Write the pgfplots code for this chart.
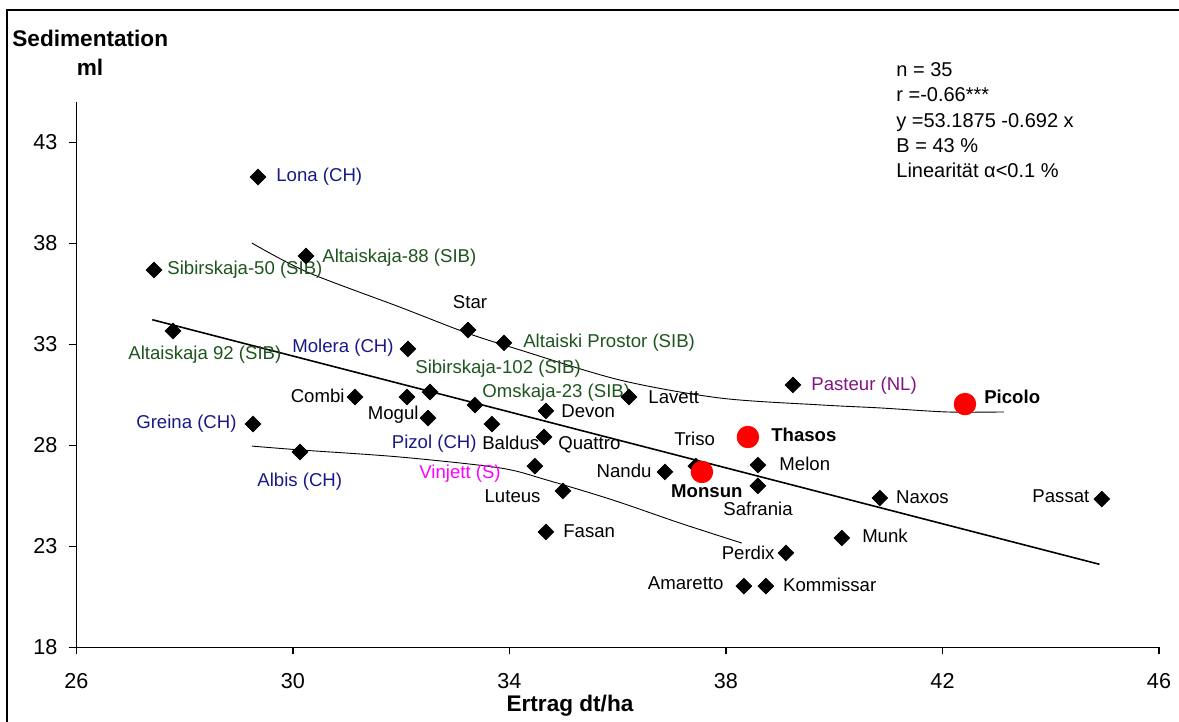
\documentclass[border=0pt]{standalone}
\usepackage{fontspec}
\setmainfont{Liberation Sans}
\usepackage{pgfplots}
\pgfplotsset{compat=1.18}
\definecolor{cnavy}{RGB}{25,25,135}
\definecolor{cgreen}{RGB}{30,85,30}
\definecolor{cpurple}{RGB}{130,20,130}
\definecolor{cmag}{RGB}{255,0,255}
\begin{document}
\begin{tikzpicture}[
  lab/.style={font=\fontsize{9.3}{11}\selectfont, inner sep=0pt, text height=6.66pt, text depth=0pt},
  blab/.style={lab, font=\fontsize{9.3}{11}\selectfont\bfseries}]
\useasboundingbox (0,0) rectangle (589.5pt,361pt);
\draw[line width=1pt] (3.5pt,-5pt) -- (3.5pt,356pt) -- (600pt,356pt);
\begin{axis}[
  at={(38.25pt,37.25pt)}, anchor=south west,
  scale only axis, width=541.25pt, height=272.7pt,
  xmin=26, xmax=46, ymin=18, ymax=45,
  xtick={26,30,34,38,42,46}, ytick={18,23,28,33,38,43},
  axis x line=bottom, axis y line=left,
  axis line style={-, line width=0.75pt},
  tick style={line width=0.6pt, black},
  tick align=outside, major tick length=3.5pt,
  /pgf/number format/assume math mode=true,
  xticklabel style={font=\fontsize{10.8}{13}\selectfont, yshift=-6pt},
  yticklabel style={font=\fontsize{10.8}{13}\selectfont, xshift=-2.5pt},
  clip=false,
]
% regression line
\addplot[black, line width=0.8pt] coordinates {(27.4,34.2267) (44.9,22.118)};
% upper curve
\addplot[black, line width=0.45pt, smooth] coordinates {
(29.242,38.02) (30.258,36.59) (31.976,34.85) (33.213,33.57) (34.193,32.73)
(36.04,31.24) (37.888,30.35) (39.735,30.01) (40.843,29.86) (42.081,29.66) (43.134,29.66)};
% lower curve
\addplot[black, line width=0.45pt, smooth] coordinates {
(29.242,27.97) (30.129,27.78) (31.976,27.43) (33.823,26.89) (34.691,26.29)
(35.91,25.30) (37.148,24.16) (38.293,23.17)};
% diamonds
\addplot[only marks, mark=square*, mark size=2.75pt, mark options={rotate=45, fill=black, draw=black}] coordinates {
(29.353,41.29) (30.240,37.38) (27.432,36.69) (27.783,33.67) (33.233,33.72)
(33.898,33.08) (32.124,32.78) (32.531,30.65) (31.145,30.40) (32.105,30.40)
(32.493,29.36) (33.362,30.00) (33.676,29.06) (34.673,29.71) (34.636,28.42)
(36.207,30.40) (39.237,31.00) (37.444,26.98) (36.872,26.69) (38.590,27.03)
(38.590,26.00) (34.470,26.98) (34.987,25.75) (34.673,23.72) (39.107,22.68)
(38.331,21.04) (38.737,21.04) (40.141,23.42) (40.843,25.40) (44.944,25.35)
(29.261,29.06) (30.129,27.68)};
% red circles
\addplot[only marks, mark=*, mark size=5.4pt, mark options={fill=red, draw=red}] coordinates {
(42.415,30.05) (38.405,28.42) (37.555,26.69)};
% labels
\node[lab, anchor=west, text=cnavy] at (axis cs:29.686,41.39) {Lona (CH)};
\node[lab, anchor=west, text=cgreen] at (axis cs:30.535,37.38) {Altaiskaja-88 (SIB)};
\node[lab, anchor=west, text=cgreen] at (axis cs:27.672,36.79) {Sibirskaja-50 (SIB)};
\node[lab, anchor=west, text=cgreen] at (axis cs:26.951,32.58) {Altaiskaja 92 (SIB)};
\node[lab, anchor=center] at (axis cs:33.27,35.10) {Star};
\node[lab, anchor=west, text=cgreen] at (axis cs:34.248,33.17) {Altaiski Prostor (SIB)};
\node[lab, anchor=east, text=cnavy] at (axis cs:31.866,32.93) {Molera (CH)};
\node[lab, anchor=west, text=cgreen] at (axis cs:32.253,31.89) {Sibirskaja-102 (SIB)};
\node[lab, anchor=east] at (axis cs:30.96,30.45) {Combi};
\node[lab, anchor=east] at (axis cs:32.327,29.61) {Mogul};
\node[lab, anchor=west, text=cgreen] at (axis cs:33.49,30.70) {Omskaja-23 (SIB)};
\node[lab, anchor=west] at (axis cs:34.95,29.71) {Devon};
\node[lab, anchor=west] at (axis cs:36.56,30.40) {Lavett};
\node[lab, anchor=west, text=cpurple] at (axis cs:39.57,31.05) {Pasteur (NL)};
\node[blab, anchor=west] at (axis cs:42.765,30.40) {Picolo};
\node[lab, anchor=east, text=cnavy] at (axis cs:28.965,29.17) {Greina (CH)};
\node[lab, anchor=east, text=cnavy] at (axis cs:33.40,28.17) {Pizol (CH)};
\node[lab, anchor=west] at (axis cs:33.49,28.12) {Baldus};
\node[lab, anchor=west] at (axis cs:34.895,28.12) {Quattro};
\node[lab, anchor=center] at (axis cs:37.42,28.32) {Triso};
\node[blab, anchor=west] at (axis cs:38.83,28.52) {Thasos};
\node[lab, anchor=west, text=cnavy] at (axis cs:29.335,26.29) {Albis (CH)};
\node[lab, anchor=west, text=cmag] at (axis cs:32.327,26.69) {Vinjett (S)};
\node[lab, anchor=east] at (axis cs:36.63,26.74) {Nandu};
\node[lab, anchor=west] at (axis cs:38.98,27.08) {Melon};
\node[blab, anchor=west] at (axis cs:36.98,25.75) {Monsun};
\node[lab, anchor=east] at (axis cs:34.58,25.50) {Luteus};
\node[lab, anchor=west] at (axis cs:37.944,24.86) {Safrania};
\node[lab, anchor=west] at (axis cs:34.987,23.77) {Fasan};
\node[lab, anchor=east] at (axis cs:38.903,22.68) {Perdix};
\node[lab, anchor=east] at (axis cs:37.96,21.19) {Amaretto};
\node[lab, anchor=west] at (axis cs:39.05,21.09) {Kommissar};
\node[lab, anchor=west] at (axis cs:40.51,23.52) {Munk};
\node[lab, anchor=west] at (axis cs:41.135,25.45) {Naxos};
\node[lab, anchor=east] at (axis cs:44.72,25.50) {Passat};
\end{axis}
% titles
\node[anchor=west, inner sep=0pt, font=\fontsize{11.3}{13}\selectfont\bfseries] at (6pt,342pt) {Sedimentation};
\node[anchor=center, inner sep=0pt, font=\fontsize{11.3}{13}\selectfont\bfseries] at (45pt,327.5pt) {ml};
\node[anchor=center, inner sep=0pt, font=\fontsize{11.3}{13}\selectfont\bfseries] at (285pt,8pt) {Ertrag dt/ha};
% stats
\begin{scope}[every node/.style={anchor=base west, inner sep=0pt, font=\fontsize{10}{12}\selectfont}]
\node at (448pt,322.75pt) {n = 35};
\node at (448pt,310.1pt) {r =-0.66***};
\node at (448pt,297.45pt) {y =53.1875 -0.692 x};
\node at (448pt,284.8pt) {B = 43 \%};
\node at (448pt,272.15pt) {Linearität α<0.1 \%};
\end{scope}
\end{tikzpicture}
\end{document}
